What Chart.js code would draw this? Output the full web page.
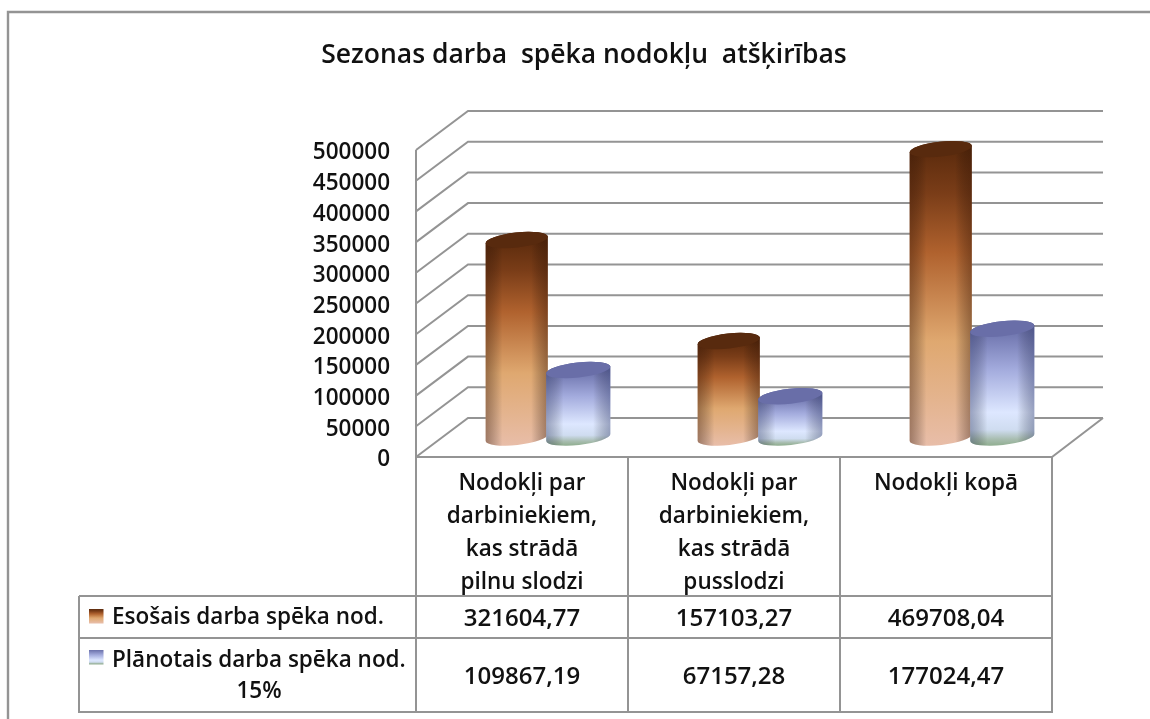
<!DOCTYPE html>
<html><head><meta charset="utf-8">
<style>html,body{margin:0;padding:0;background:#fff}#w{width:1150px;height:719px;position:relative}canvas{display:block}</style>
<script src="https://cdn.jsdelivr.net/npm/chart.js@4"></script>
</head><body><div id="w"><canvas id="c" width="1150" height="719"></canvas></div>
<script>
const chartTitle = 'Sezonas darba  spēka nodokļu  atšķirības';
const categories = [
  ['Nodokļi par','darbiniekiem,','kas strādā','pilnu slodzi'],
  ['Nodokļi par','darbiniekiem,','kas strādā','pusslodzi'],
  ['Nodokļi kopā']
];
const seriesCurrentName = 'Esošais darba spēka nod.';
const seriesPlannedName = ['Plānotais darba spēka nod.','15%'];
const seriesCurrent = [321604.77, 157103.27, 469708.04];
const seriesPlanned = [109867.19, 67157.28, 177024.47];

const FONT = '"Open Sans", "Noto Sans", sans-serif';
const GREY = '#949494';
const DX = 52, DY = 39;
const STOPS = [
  [[0,'#5c2b0d'],[.15,'#7a3d18'],[.35,'#b0622e'],[.65,'#dfa870'],[.85,'#e4b48f'],[1,'#e8bda8']],
  [[0,'#6a70aa'],[.35,'#a3abdd'],[.72,'#dde7ff'],[.87,'#cfdcf0'],[.95,'#a8bdb0'],[1,'#93b094']]
];
const CAP = ['#582a0e','#696ea8'];
const SIDE = ['rgba(50,20,5,.4)','rgba(40,50,95,.38)'];

function line(ctx, pts, w){
  ctx.beginPath();
  pts.forEach((p,i)=> i?ctx.lineTo(p[0],p[1]):ctx.moveTo(p[0],p[1]));
  ctx.lineWidth = w||2; ctx.strokeStyle = GREY; ctx.stroke();
}
function cylinder(ctx, el, k){
  const w = el.width, rx = w/2 + k, ry = 7.5, th = -0.11;
  const cx = el.x + DX/2 - k, top = el.y - DY/2, bot = el.base - DY/2;
  const ex = rx*Math.cos(th), ey = rx*Math.sin(th);
  const v = ctx.createLinearGradient(0, top, 0, bot+ry);
  STOPS[k].forEach(s=>v.addColorStop(s[0],s[1]));
  const path = ()=>{
    ctx.beginPath();
    ctx.moveTo(cx-ex, top-ey);
    ctx.lineTo(cx-ex, bot-ey);
    ctx.ellipse(cx, bot, rx, ry, th, Math.PI, 0, true);
    ctx.lineTo(cx+ex, top+ey);
    ctx.ellipse(cx, top, rx, ry, th, 0, Math.PI, true);
    ctx.closePath();
  };
  path(); ctx.fillStyle = v; ctx.fill();
  const h = ctx.createLinearGradient(cx-rx,0,cx+rx,0);
  h.addColorStop(0,SIDE[k]); h.addColorStop(.27,'rgba(0,0,0,0)');
  h.addColorStop(.73,'rgba(0,0,0,0)'); h.addColorStop(1,SIDE[k]);
  path(); ctx.fillStyle = h; ctx.fill();
  ctx.beginPath(); ctx.ellipse(cx, top, rx, ry, th, 0, Math.PI*2);
  ctx.fillStyle = CAP[k]; ctx.fill();
}
const fmt = v => v.toFixed(2).replace('.',',');

const scene = {
  id:'scene',
  afterLayout(chart){
    chart.titleBlock.left = 18; chart.titleBlock.right = 1150;
  },
  beforeDraw(chart){
    const ctx = chart.ctx;
    ctx.fillStyle = '#fff'; ctx.fillRect(0,0,chart.width,chart.height);
    line(ctx, [[8,719],[8,12],[1150,12]], 2.4);
  },
  beforeDatasetsDraw(chart){
    const ctx = chart.ctx, y = chart.scales.y, a = chart.chartArea;
    y.ticks.forEach(t=>{
      const p = y.getPixelForValue(t.value);
      line(ctx, [[a.left,p],[a.left+DX,p-DY],[a.right+DX-1,p-DY]], 2);
    });
    line(ctx, [[a.left,a.top],[a.left,a.bottom]], 2);
    line(ctx, [[a.left,a.bottom],[a.right,a.bottom],[a.right+DX-1,a.bottom-DY]], 2);
    chart.data.labels.forEach((_,j)=>{
      [0,1].forEach(k=>cylinder(ctx, chart.getDatasetMeta(k).data[j], k));
    });
    return false;
  },
  afterDraw(chart){
    const ctx = chart.ctx, x = chart.scales.x, a = chart.chartArea;
    const T = 596, R1 = 638, B = 712, L = 79;
    line(ctx, [[L,T],[a.right,T]], 2);
    line(ctx, [[L,R1],[a.right,R1]], 2);
    line(ctx, [[L,T],[L,B],[a.right,B],[a.right,a.bottom]], 2);
    line(ctx, [[a.left,a.bottom],[a.left,B]], 2);
    const ticks = chart.data.labels.map((_,j)=>x.getPixelForTick(j));
    for(let j=0;j<ticks.length-1;j++){
      const m = (ticks[j]+ticks[j+1])/2;
      line(ctx, [[m,a.bottom],[m,B]], 2);
    }
    ctx.fillStyle = '#111'; ctx.textBaseline = 'middle'; ctx.textAlign = 'center';
    ctx.font = '600 24px '+FONT;
    seriesCurrent.forEach((v,j)=>ctx.fillText(fmt(v), ticks[j], 619));
    seriesPlanned.forEach((v,j)=>ctx.fillText(fmt(v), ticks[j], 677));
    ctx.font = '600 22.5px '+FONT;
    ctx.textAlign = 'left';
    ctx.fillText(seriesCurrentName, 112, 618);
    ctx.fillText(seriesPlannedName[0], 112, 661);
    ctx.textAlign = 'center';
    ctx.fillText(seriesPlannedName[1], 259, 692);
    const keys = [[609,0],[650,1]];
    keys.forEach(([ky,k])=>{
      const g = ctx.createLinearGradient(0,ky,0,ky+14);
      STOPS[k].forEach(s=>g.addColorStop(s[0],s[1]));
      ctx.fillStyle = g; ctx.fillRect(89,ky,14.5,14.5);
    });
  }
};

new Chart(document.getElementById('c'), {
  type:'bar',
  data:{ labels:categories, datasets:[
    {label:seriesCurrentName, data:seriesCurrent, backgroundColor:'#a9592a'},
    {label:seriesPlannedName.join(' '), data:seriesPlanned, backgroundColor:'#9aa3d8'}
  ]},
  plugins:[scene],
  options:{
    responsive:false, animation:false, devicePixelRatio:1,
    layout:{padding:{left:18,right:98,top:40,bottom:0}},
    datasets:{bar:{categoryPercentage:.59,barPercentage:1}},
    plugins:{
      legend:{display:false}, tooltip:{enabled:false},
      title:{display:true,text:chartTitle,color:'#111',
        font:{family:FONT,size:26.5,weight:'600',lineHeight:1.2},
        padding:{top:0,bottom:78.2}}
    },
    scales:{
      x:{
        grid:{display:false,drawTicks:false}, border:{display:false},
        ticks:{color:'#111',font:{family:FONT,size:22.5,weight:'600',lineHeight:1.47},
          maxRotation:0,minRotation:0,autoSkip:false,padding:10},
        afterFit(s){s.height=262;}
      },
      y:{
        min:0,max:500000,
        grid:{display:false,drawTicks:false}, border:{display:false},
        ticks:{stepSize:50000,color:'#111',font:{family:FONT,size:22.5,weight:'600'},padding:26,labelOffset:3,callback:v=>String(v)},
        afterFit(s){s.width=398;}
      }
    }
  }
});
</script></body></html>
